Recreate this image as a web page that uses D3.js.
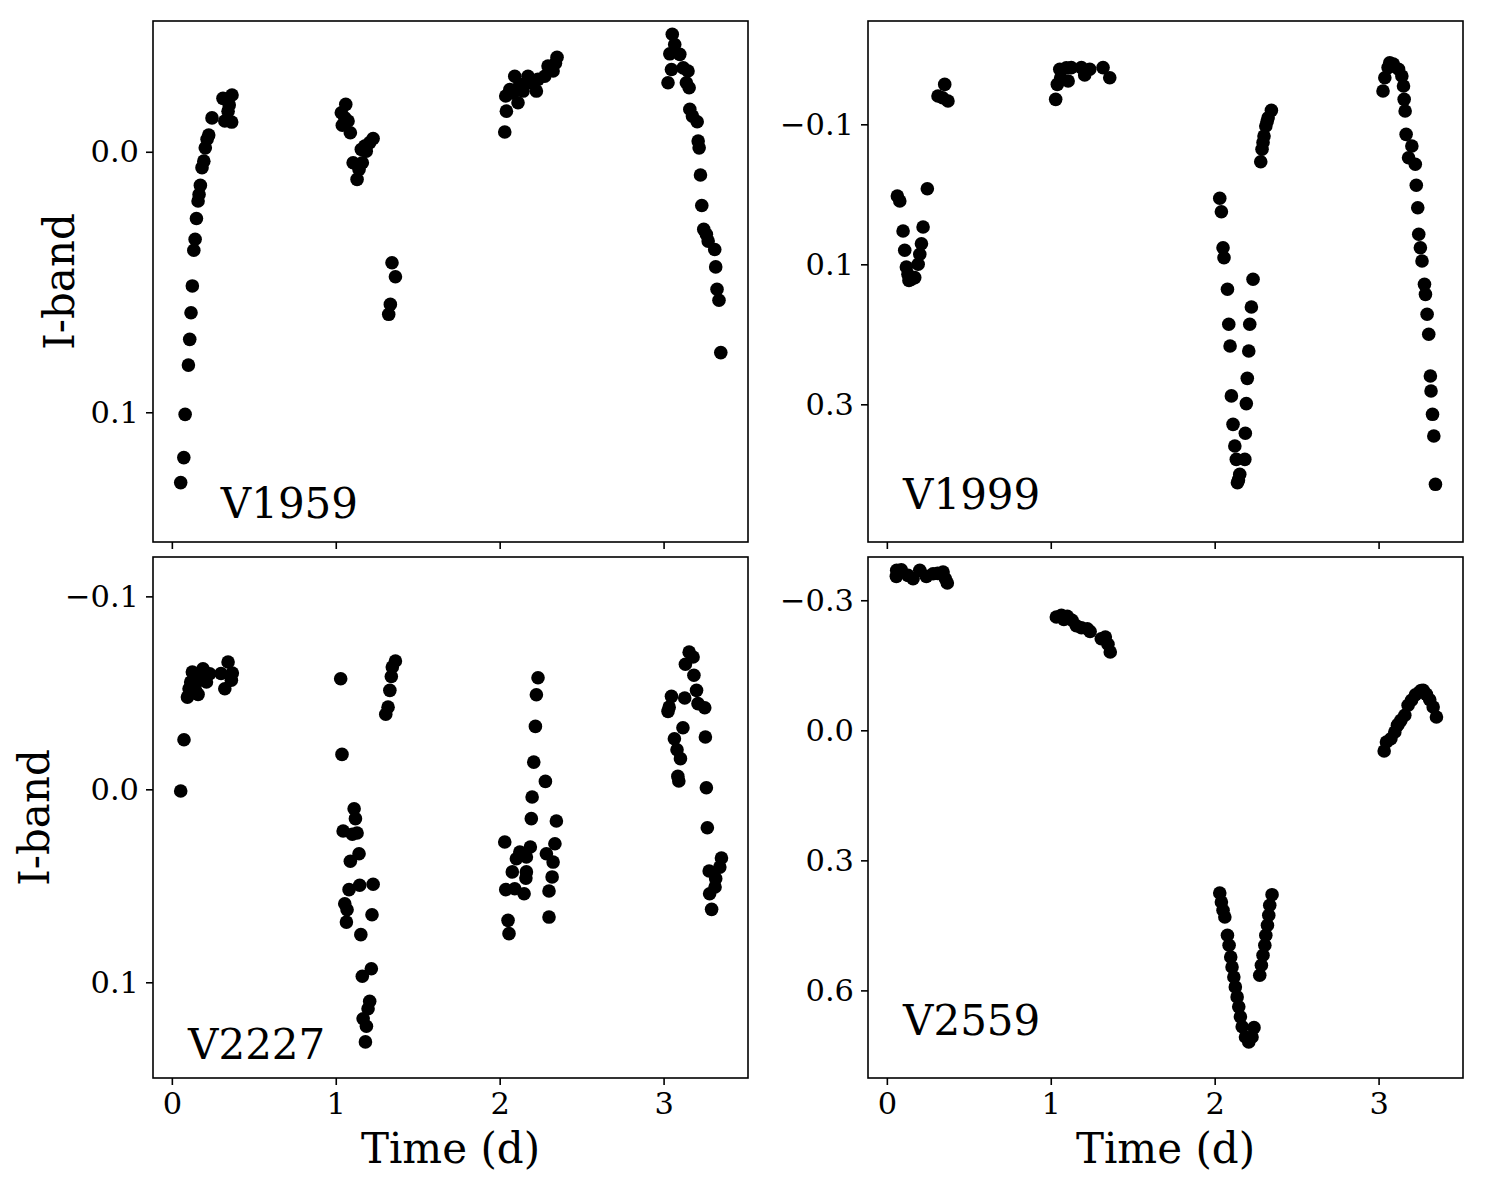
<!DOCTYPE html>
<html>
<head>
<meta charset="utf-8">
<script src="https://cdn.jsdelivr.net/npm/d3@7"></script>
<style>
  body { margin: 0; background: #fff; }
  svg text { font-family: "DejaVu Serif", serif; fill: #000; }
</style>
</head>
<body>
<script>
// time (d), I-band magnitude
const v1959 = [
  [0.054,0.127],[0.073,0.1174],[0.081,0.1008],[0.101,0.0819],[0.109,0.0720],[0.117,0.0618],[0.125,0.0515],
  [0.134,0.0378],[0.142,0.0336],[0.150,0.0256],[0.160,0.0189],[0.166,0.0164],[0.174,0.0129],[0.184,0.0061],
  [0.195,0.0036],[0.204,-0.0015],[0.215,-0.0048],[0.225,-0.0064],[0.245,-0.0130],[0.312,-0.0205],[0.367,-0.0218],
  [0.343,-0.0156],[0.323,-0.0118],[0.365,-0.0114],[0.350,-0.018],
  [1.061,-0.0182],[1.034,-0.0150],[1.055,-0.0130],[1.040,-0.0102],[1.075,-0.0118],[1.089,-0.0073],[1.228,-0.0051],
  [1.207,-0.0035],[1.177,-0.0022],[1.156,-0.0009],[1.186,-0.0002],[1.106,0.0042],[1.162,0.0042],[1.142,0.0068],[1.130,0.0106],
  [1.343,0.0426],[1.364,0.0480],[1.333,0.0586],[1.323,0.0624],
  [2.031,-0.0076],[2.041,-0.0156],[2.037,-0.0214],[2.062,-0.0239],[2.092,-0.0290],[2.112,-0.0188],[2.123,-0.0259],
  [2.143,-0.0233],[2.173,-0.0290],[2.184,-0.0265],[2.224,-0.0233],[2.234,-0.0278],[2.275,-0.0290],[2.295,-0.0329],
  [2.326,-0.0310],[2.350,-0.0363],[2.340,-0.034],[2.080,-0.0226],
  [3.053,-0.0451],[3.068,-0.0412],[3.038,-0.0376],[3.099,-0.0374],[3.048,-0.0316],[3.027,-0.0265],[3.120,-0.0322],
  [3.149,-0.0310],[3.139,-0.0265],[3.156,-0.0246],[3.160,-0.0163],[3.176,-0.0137],[3.205,-0.0115],[3.211,-0.0041],
  [3.217,-0.0015],[3.225,0.0089],[3.233,0.0206],[3.245,0.0298],[3.261,0.0317],[3.272,0.0343],[3.312,0.0375],
  [3.318,0.0442],[3.326,0.0528],[3.338,0.0570],[3.349,0.0771]
]

const v1999 = [
  [0.064,0.0024],[0.079,0.0096],[0.247,-0.008],[0.099,0.0524],[0.221,0.0467],[0.109,0.080],[0.211,0.0706],
  [0.201,0.0857],[0.191,0.100],[0.119,0.1039],[0.129,0.1143],[0.150,0.1214],[0.170,0.119],[0.135,0.123],
  [0.353,-0.157],[0.312,-0.1404],[0.373,-0.1333],[0.340,-0.138],
  [1.030,-0.1357],[1.040,-0.157],[1.055,-0.1786],[1.106,-0.1619],[1.095,-0.1809],[1.125,-0.181],[1.187,-0.181],
  [1.207,-0.1704],[1.238,-0.1786],[1.319,-0.181],[1.360,-0.1666],[1.060,-0.166],
  [2.031,0.0057],[2.041,0.0249],[2.051,0.0763],[2.057,0.0906],[2.078,0.1357],[2.086,0.1857],[2.094,0.2167],
  [2.102,0.288],[2.112,0.3286],[2.123,0.3596],[2.132,0.3786],[2.153,0.400],[2.139,0.412],[2.145,0.408],
  [2.184,0.3786],[2.187,0.3414],[2.193,0.299],[2.199,0.2629],[2.208,0.2239],[2.214,0.1857],[2.224,0.161],[2.234,0.1214],
  [2.281,-0.0466],[2.289,-0.0643],[2.301,-0.0833],[2.312,-0.0976],[2.326,-0.1094],[2.346,-0.120],[2.295,-0.074],[2.320,-0.104],
  [3.068,-0.188],[3.058,-0.181],[3.038,-0.1666],[3.027,-0.1476],[3.090,-0.186],[3.122,-0.1786],[3.142,-0.169],
  [3.152,-0.1547],[3.156,-0.1357],[3.162,-0.119],[3.168,-0.0857],[3.203,-0.069],[3.183,-0.0523],[3.224,-0.0429],
  [3.230,-0.0129],[3.239,0.0191],[3.245,0.0571],[3.255,0.0763],[3.265,0.0953],[3.280,0.1286],[3.286,0.1429],
  [3.296,0.1714],[3.306,0.200],[3.316,0.2596],[3.320,0.281],[3.329,0.3143],[3.337,0.3453],[3.347,0.4143]
]

const v2227 = [
  [0.054,0.0009],[0.074,-0.0257],[0.095,-0.0478],[0.105,-0.0521],[0.115,-0.0556],[0.125,-0.0608],[0.160,-0.0492],
  [0.146,-0.051],[0.170,-0.0565],[0.190,-0.0625],[0.211,-0.0556],[0.231,-0.0599],[0.200,-0.060],[0.323,-0.0521],
  [0.343,-0.066],[0.369,-0.0603],[0.363,-0.0565],[0.300,-0.060],
  [1.030,-0.0573],[1.038,-0.0181],[1.112,0.0101],[1.120,0.0152],[1.045,0.0216],[1.101,0.0233],[1.130,0.0226],
  [1.142,0.0334],[1.089,0.0373],[1.081,0.052],[1.146,0.0497],[1.228,0.0492],[1.055,0.0593],[1.069,0.0624],
  [1.065,0.0688],[1.221,0.065],[1.153,0.0753],[1.217,0.093],[1.162,0.0969],[1.207,0.1098],[1.197,0.1137],
  [1.167,0.1189],[1.187,0.1228],[1.181,0.1309],
  [1.364,-0.0665],[1.345,-0.0634],[1.339,-0.0585],[1.330,-0.0513],[1.319,-0.0426],[1.305,-0.0389],
  [2.234,-0.0578],[2.224,-0.049],[2.218,-0.0326],[2.208,-0.0141],[2.279,-0.0041],[2.198,0.004],[2.193,0.0152],
  [2.346,0.0164],[2.031,0.0273],[2.187,0.0299],[2.337,0.0282],[2.123,0.0325],[2.285,0.0334],[2.163,0.0351],
  [2.102,0.036],[2.326,0.0377],[2.077,0.0428],[2.163,0.0428],[2.160,0.046],[2.320,0.0454],[2.037,0.052],
  [2.092,0.0515],[2.149,0.0541],[2.301,0.0527],[2.301,0.0662],[2.051,0.0679],[2.057,0.0748],
  [3.156,-0.0711],[3.180,-0.0686],[3.133,-0.0648],[3.185,-0.0591],[3.201,-0.0513],[3.048,-0.0482],[3.129,-0.0473],
  [3.034,-0.0426],[3.027,-0.0404],[3.210,-0.0444],[3.251,-0.0423],[3.118,-0.0319],[3.255,-0.0271],[3.066,-0.0262],
  [3.082,-0.0205],[3.103,-0.0159],[3.087,-0.0067],[3.093,-0.0043],[3.261,-0.0008],[3.267,0.0199],[3.353,0.0356],
  [3.343,0.0403],[3.278,0.0423],[3.318,0.0463],[3.314,0.0506],[3.281,0.0541],[3.293,0.0622]
]

const v2559 = [
  [0.058,-0.3552],[0.088,-0.3705],[0.129,-0.3575],[0.160,-0.3497],[0.201,-0.369],[0.241,-0.3552],[0.282,-0.3612],
  [0.343,-0.3652],[0.357,-0.3497],[0.369,-0.3397],[0.310,-0.362],[0.060,-0.369],
  [1.034,-0.2614],[1.065,-0.2653],[1.101,-0.263],[1.130,-0.2538],[1.156,-0.2413],[1.187,-0.2367],[1.223,-0.2344],
  [1.240,-0.228],[1.308,-0.2113],[1.333,-0.2152],[1.349,-0.1984],[1.363,-0.1806],[1.080,-0.256],
  [2.031,0.3753],[2.041,0.396],[2.051,0.4152],[2.062,0.4307],[2.078,0.4729],[2.088,0.496],[2.098,0.523],
  [2.106,0.546],[2.117,0.569],[2.126,0.592],[2.137,0.615],[2.147,0.638],[2.157,0.661],[2.168,0.684],
  [2.188,0.7075],[2.208,0.719],[2.228,0.7075],[2.240,0.686],
  [2.275,0.5652],[2.285,0.5421],[2.295,0.519],[2.306,0.496],[2.312,0.4729],[2.322,0.4498],[2.330,0.4268],
  [2.336,0.4037],[2.350,0.3792],
  [3.034,0.0478],[3.048,0.027],[3.075,0.0194],[3.099,0.0039],[3.115,-0.0115],[3.136,-0.023],[3.160,-0.0346],
  [3.180,-0.0577],[3.201,-0.0692],[3.225,-0.0821],[3.251,-0.0884],[3.272,-0.0923],[3.292,-0.083],[3.312,-0.0706],
  [3.333,-0.0537],[3.353,-0.0307],[3.120,-0.014],[3.260,-0.092]
]

const timeDomain = [-0.115, 3.515]
const timeTicks = [0, 1, 2, 3]

const panels = [
  { name: 'V1959', data: v1959, yDomain: [-0.0502, 0.1498], yTicks: [0.0, 0.1], col: 0, row: 0, lab: [0.114, 0.954] },
  { name: 'V1999', data: v1999, yDomain: [-0.2476, 0.4967], yTicks: [-0.1, 0.1, 0.3], col: 1, row: 0, lab: [0.059, 0.937] },
  { name: 'V2227', data: v2227, yDomain: [-0.1204, 0.1496], yTicks: [-0.1, 0.0, 0.1], col: 0, row: 1, lab: [0.059, 0.9635] },
  { name: 'V2559', data: v2559, yDomain: [-0.3998, 0.8021], yTicks: [-0.3, 0.0, 0.3, 0.6], col: 1, row: 1, lab: [0.059, 0.917] }
]

const width = 1486
const height = 1187
const colX = [153, 868]
const rowY = [21, 557]
const pw = 595
const ph = 521

const svg = d3.select('body')
  .append('svg')
  .attr('width', width)
  .attr('height', height)

panels.forEach(p => {
  const x = d3.scaleLinear().domain(timeDomain).range([0, pw])
  // magnitudes: brighter up
  const y = d3.scaleLinear().domain(p.yDomain).range([0, ph])

  const g = svg.append('g')
    .attr('transform', `translate(${colX[p.col]},${rowY[p.row]})`)

  g.append('g')
    .selectAll('circle')
    .data(p.data)
    .enter()
    .append('circle')
    .attr('cx', d => x(d[0]))
    .attr('cy', d => y(d[1]))
    .attr('r', 6.8)
    .attr('fill', '#000')

  const yAxis = g.append('g')
    .call(d3.axisLeft(y).tickValues(p.yTicks).tickSize(7).tickPadding(7).tickFormat(d3.format('.1f')))
  yAxis.select('.domain').remove()
  yAxis.selectAll('line').attr('stroke-width', 1.6)
  yAxis.selectAll('text').attr('font-size', 30.5).attr('font-family', '"DejaVu Serif", serif')

  const xAxis = g.append('g')
    .attr('transform', `translate(0,${ph})`)
    .call(d3.axisBottom(x).tickValues(timeTicks).tickSize(7).tickPadding(7)
      .tickFormat(p.row === 1 ? d3.format('d') : () => ''))
  xAxis.select('.domain').remove()
  xAxis.selectAll('line').attr('stroke-width', 1.6)
  xAxis.selectAll('text').attr('font-size', 30.5).attr('font-family', '"DejaVu Serif", serif')

  g.append('rect')
    .attr('width', pw)
    .attr('height', ph)
    .attr('fill', 'none')
    .attr('stroke', '#000')
    .attr('stroke-width', 1.6)

  g.append('text')
    .attr('x', p.lab[0] * pw)
    .attr('y', p.lab[1] * ph)
    .attr('font-size', 42)
    .text(p.name)

  if (p.row === 1) {
    g.append('text')
      .attr('x', pw / 2)
      .attr('y', 1163 - rowY[1])
      .attr('text-anchor', 'middle')
      .attr('font-size', 42)
      .text('Time (d)')
  }
})

// y labels
svg.append('text')
  .attr('transform', `translate(74,${rowY[0] + ph / 2}) rotate(-90)`)
  .attr('text-anchor', 'middle')
  .attr('font-size', 42)
  .text('I-band')

svg.append('text')
  .attr('transform', `translate(49,${rowY[1] + ph / 2}) rotate(-90)`)
  .attr('text-anchor', 'middle')
  .attr('font-size', 42)
  .text('I-band')
</script>
</body>
</html>
